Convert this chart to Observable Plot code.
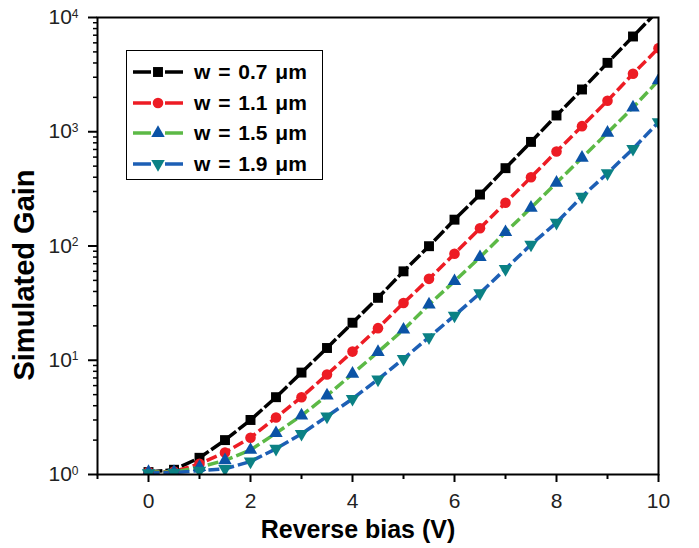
<!DOCTYPE html>
<html><head><meta charset="utf-8">
<script src="https://cdn.jsdelivr.net/npm/d3@7"></script>
<script src="https://cdn.jsdelivr.net/npm/@observablehq/plot@0.6"></script>
<style>
body{margin:0;background:#fff;}
#wrap{position:relative;width:699px;height:548px;font-family:"Liberation Sans",Arial,sans-serif;}
#legend{position:absolute;left:126px;top:50px;width:197px;height:130px;border:1.3px solid #000;box-sizing:border-box;background:#fff;}
#legend .row{position:absolute;left:5px;height:30px;display:flex;align-items:center;}
#legend .row span{font-weight:bold;font-size:21px;margin-left:10px;word-spacing:2px;color:#000;}
</style></head><body><div id="wrap"><div id="chart"></div><div id="legend"></div></div>
<script>
const bias = [0,0.5,1,1.5,2,2.5,3,3.5,4,4.5,5,5.5,6,6.5,7,7.5,8,8.5,9,9.5,10];
const gain07 = [1.05,1.1,1.4,2.0,3.0,4.75,7.8,12.8,21.3,35.2,60,99.6,170,282,480,815,1388,2344,4010,6820,11600];
const gain11 = [1.05,1.06,1.24,1.56,2.1,3.15,4.75,7.5,11.9,19.1,31.7,51.6,85.5,143,239,400,671,1119,1870,3215,5390];
const gain15 = [1.05,1.05,1.16,1.33,1.64,2.3,3.28,4.9,7.6,11.8,18.5,30.7,49.2,79.8,132,216,357,592,979,1630,2810];
const gain19 = [1.03,1.04,1.08,1.12,1.3,1.68,2.27,3.22,4.6,6.8,10.3,15.9,24.6,38.6,63,103,160,271,434,709,1213];
const seriesNames = ["w = 0.7 \u03bcm","w = 1.1 \u03bcm","w = 1.5 \u03bcm","w = 1.9 \u03bcm"];
const xTicks = [0,2,4,6,8,10];
const xMinor = [-1,1,3,5,7,9];
const yTicks = [1,10,100,1000,10000];

const gains = [gain07,gain11,gain15,gain19];
const styles = [
  {line:"#000000", marker:"#000000", symbol:"square", r:5.6, rotate:0, dash:"14,3"},
  {line:"#ed1c24", marker:"#ed1c24", symbol:"circle", r:5.3, rotate:0, dash:"11,4"},
  {line:"#5cb946", marker:"#0b53a6", symbol:"triangle", r:5.0, rotate:0, dash:"11,4"},
  {line:"#1d5fb5", marker:"#0b8184", symbol:"triangle", r:5.0, rotate:180, dash:"11,4"}
];
const yMinor = [];
for (let e = 0; e < 4; e++) for (let m = 2; m <= 9; m++) yMinor.push(m * 10 ** e);

const marks = [];
gains.forEach((g, i) => {
  const data = bias.map((b, j) => ({bias: b, gain: g[j]}));
  const s = styles[i];
  marks.push(Plot.line(data, {x:"bias", y:"gain", stroke:s.line, strokeWidth:3.5, strokeDasharray:s.dash, strokeLinecap:"butt", clip:true}));
});
gains.forEach((g, i) => {
  const data = bias.map((b, j) => ({bias: b, gain: g[j]}));
  const s = styles[i];
  marks.push(Plot.dot(data, {x:"bias", y:"gain", symbol:s.symbol, r:s.r, fill:s.marker, stroke:"none", rotate:s.rotate, clip:true}));
});

const chart = Plot.plot({
  width: 699, height: 548,
  marginLeft: 97, marginRight: 41, marginTop: 17, marginBottom: 74,
  style: {fontFamily: '"Liberation Sans", Arial, sans-serif', fontSize: "21px", color: "#222", background: "#fff"},
  x: {domain: [-1, 10], axis: null},
  y: {type: "log", domain: [1, 10000], axis: null},
  marks: [
    ...marks,
    Plot.frame({stroke: "#000", strokeWidth: 2}),
    Plot.axisX(xTicks, {label: null, tickSize: 8, tickPadding: 11, strokeWidth: 2, stroke: "#000", fill: "#222", tickFormat: d => String(d)}),
    Plot.axisX(xMinor, {label: null, tickSize: 5, strokeWidth: 2, stroke: "#000", tickFormat: null, text: null}),
    Plot.axisY(yTicks, {label: null, tickSize: 9, tickPadding: 10, strokeWidth: 2, stroke: "#000", fill: "#222", tickFormat: d => "10^" + Math.round(Math.log10(d))}),
    Plot.axisY(yMinor, {label: null, tickSize: 4, strokeWidth: 1.5, stroke: "#000", tickFormat: null, text: null}),
    Plot.text(["Reverse bias (V)"], {frameAnchor: "bottom", dx: -20, dy: 55, lineAnchor: "middle", textAnchor: "middle", fontWeight: "bold", fontSize: 25, fill: "#000"}),
    Plot.text(["Simulated Gain"], {frameAnchor: "left", dx: -73, dy: 29, rotate: -90, lineAnchor: "middle", textAnchor: "middle", fontWeight: "bold", fontSize: 29, fill: "#000"})
  ]
});
document.getElementById("chart").appendChild(chart);

// superscript exponents on log tick labels
d3.select(chart).selectAll("text").each(function() {
  const t = this.textContent;
  const m = /^10\^(\d)$/.exec(t);
  if (m) {
    const sel = d3.select(this);
    sel.text("10");
    sel.append("tspan").attr("dy", "-0.55em").attr("font-size", "12px").text(m[1]);
  }
});

// legend
const leg = d3.select("#legend");
seriesNames.forEach((name, i) => {
  const s = styles[i];
  const row = leg.append("div").attr("class", "row").style("top", (6 + i * 30.5) + "px");
  const svg = row.append("svg").attr("width", 52).attr("height", 30);
  svg.append("line").attr("x1", 1).attr("x2", 51).attr("y1", 15).attr("y2", 15)
    .attr("stroke", s.line).attr("stroke-width", 3.5).attr("stroke-dasharray", "18,14,18");
  const sym = {square: d3.symbolSquare, circle: d3.symbolCircle, triangle: d3.symbolTriangle}[s.symbol];
  svg.append("path").attr("d", d3.symbol(sym, Math.PI * s.r * s.r)())
    .attr("transform", `translate(26,15) rotate(${s.rotate})`).attr("fill", s.marker);
  row.append("span").text(name);
});
</script>
</body></html>
